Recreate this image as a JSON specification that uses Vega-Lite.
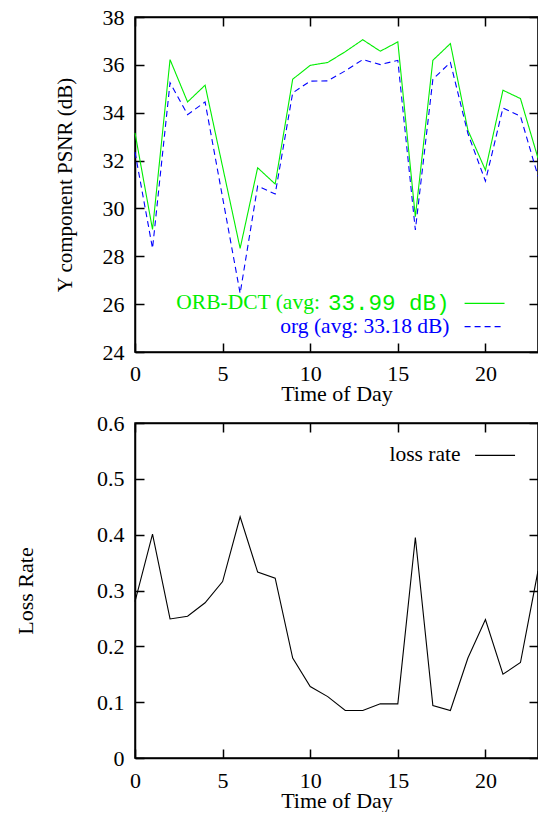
{
  "$schema": "https://vega.github.io/schema/vega-lite/v6.json",
  "padding": {"left": 13, "top": 5, "right": 0, "bottom": 0},
  "background": "white",
  "spacing": 71,
  "bounds": "flush",
  "datasets": {
    "psnr": [
      {"hour": 0, "series": "ORB-DCT", "psnr": 33.16}, {"hour": 1, "series": "ORB-DCT", "psnr": 29.12},
      {"hour": 2, "series": "ORB-DCT", "psnr": 36.22}, {"hour": 3, "series": "ORB-DCT", "psnr": 34.45},
      {"hour": 4, "series": "ORB-DCT", "psnr": 35.15}, {"hour": 5, "series": "ORB-DCT", "psnr": 31.74},
      {"hour": 6, "series": "ORB-DCT", "psnr": 28.33}, {"hour": 7, "series": "ORB-DCT", "psnr": 31.7},
      {"hour": 8, "series": "ORB-DCT", "psnr": 31.02}, {"hour": 9, "series": "ORB-DCT", "psnr": 35.4},
      {"hour": 10, "series": "ORB-DCT", "psnr": 35.98}, {"hour": 11, "series": "ORB-DCT", "psnr": 36.1},
      {"hour": 12, "series": "ORB-DCT", "psnr": 36.55}, {"hour": 13, "series": "ORB-DCT", "psnr": 37.05},
      {"hour": 14, "series": "ORB-DCT", "psnr": 36.57}, {"hour": 15, "series": "ORB-DCT", "psnr": 36.96},
      {"hour": 16, "series": "ORB-DCT", "psnr": 29.65}, {"hour": 17, "series": "ORB-DCT", "psnr": 36.19},
      {"hour": 18, "series": "ORB-DCT", "psnr": 36.89}, {"hour": 19, "series": "ORB-DCT", "psnr": 33.27},
      {"hour": 20, "series": "ORB-DCT", "psnr": 31.6}, {"hour": 21, "series": "ORB-DCT", "psnr": 34.94},
      {"hour": 22, "series": "ORB-DCT", "psnr": 34.59}, {"hour": 23, "series": "ORB-DCT", "psnr": 32.1},
      {"hour": 0, "series": "org", "psnr": 32.35}, {"hour": 1, "series": "org", "psnr": 28.33},
      {"hour": 2, "series": "org", "psnr": 35.25}, {"hour": 3, "series": "org", "psnr": 33.92},
      {"hour": 4, "series": "org", "psnr": 34.45}, {"hour": 5, "series": "org", "psnr": 30.45},
      {"hour": 6, "series": "org", "psnr": 26.45}, {"hour": 7, "series": "org", "psnr": 30.94},
      {"hour": 8, "series": "org", "psnr": 30.6}, {"hour": 9, "series": "org", "psnr": 34.83},
      {"hour": 10, "series": "org", "psnr": 35.32}, {"hour": 11, "series": "org", "psnr": 35.33},
      {"hour": 12, "series": "org", "psnr": 35.75}, {"hour": 13, "series": "org", "psnr": 36.22},
      {"hour": 14, "series": "org", "psnr": 36.01}, {"hour": 15, "series": "org", "psnr": 36.19},
      {"hour": 16, "series": "org", "psnr": 29.1}, {"hour": 17, "series": "org", "psnr": 35.4},
      {"hour": 18, "series": "org", "psnr": 36.1}, {"hour": 19, "series": "org", "psnr": 33.13},
      {"hour": 20, "series": "org", "psnr": 31.14}, {"hour": 21, "series": "org", "psnr": 34.2},
      {"hour": 22, "series": "org", "psnr": 33.85}, {"hour": 23, "series": "org", "psnr": 31.35}
    ],
    "loss": [
      {"hour": 0, "rate": 0.28}, {"hour": 1, "rate": 0.401}, {"hour": 2, "rate": 0.249},
      {"hour": 3, "rate": 0.254}, {"hour": 4, "rate": 0.278}, {"hour": 5, "rate": 0.316},
      {"hour": 6, "rate": 0.432}, {"hour": 7, "rate": 0.333}, {"hour": 8, "rate": 0.322},
      {"hour": 9, "rate": 0.179}, {"hour": 10, "rate": 0.128}, {"hour": 11, "rate": 0.11},
      {"hour": 12, "rate": 0.085}, {"hour": 13, "rate": 0.085}, {"hour": 14, "rate": 0.097},
      {"hour": 15, "rate": 0.097}, {"hour": 16, "rate": 0.395}, {"hour": 17, "rate": 0.094},
      {"hour": 18, "rate": 0.085}, {"hour": 19, "rate": 0.179}, {"hour": 20, "rate": 0.248},
      {"hour": 21, "rate": 0.15}, {"hour": 22, "rate": 0.171}, {"hour": 23, "rate": 0.335}
    ],
    "psnrLegend": [
      {"series": "ORB-DCT", "x1": 18.81, "x2": 21.09, "y": 26.03, "textX": 17.95, "serifX": 10.55, "serif": "ORB-DCT (avg:", "mono": "33.99 dB)"},
      {"series": "org", "x1": 18.81, "x2": 21.09, "y": 25.06, "textX": 17.95, "serifX": 17.95, "serif": "org (avg: 33.18 dB)"}
    ],
    "lossLegend": [
      {"label": "loss rate", "x1": 19.41, "x2": 21.69, "y": 0.542, "textX": 18.58}
    ]
  },
  "vconcat": [
    {
      "width": 403,
      "height": 335,
      "layer": [
        {
          "data": {"name": "psnr"},
          "mark": {"type": "line", "strokeWidth": 1.1},
          "encoding": {
            "x": {"field": "hour", "type": "quantitative", "scale": {"domain": [0, 23], "nice": false},
                  "axis": {"values": [0, 5, 10, 15, 20], "title": "Time of Day", "titlePadding": -1, "labelPadding": 20}},
            "y": {"field": "psnr", "type": "quantitative", "scale": {"domain": [24, 38], "nice": false},
                  "axis": {"values": [24, 26, 28, 30, 32, 34, 36, 38], "title": "Y component PSNR (dB)", "titlePadding": 27, "titleFontSize": 21, "labelPadding": 20}},
            "color": {"field": "series", "type": "nominal", "scale": {"domain": ["ORB-DCT", "org"], "range": ["#00ee00", "#0000ff"]}, "legend": null},
            "strokeDash": {"field": "series", "type": "nominal", "scale": {"domain": ["ORB-DCT", "org"], "range": [[1, 0], [6, 4]]}, "legend": null}
          }
        },
        {
          "data": {"name": "psnrLegend"},
          "mark": {"type": "rule", "strokeWidth": 1.1},
          "encoding": {
            "x": {"field": "x1", "type": "quantitative", "axis": {"orient": "top", "values": [0, 5, 10, 15, 20], "labels": false, "title": null}},
            "x2": {"field": "x2"},
            "y": {"field": "y", "type": "quantitative", "axis": {"orient": "right", "values": [24, 26, 28, 30, 32, 34, 36, 38], "labels": false, "title": null}},
            "color": {"field": "series", "type": "nominal", "legend": null},
            "strokeDash": {"field": "series", "type": "nominal", "legend": null}
          }
        },
        {
          "data": {"name": "psnrLegend"},
          "mark": {"type": "text", "align": "right", "baseline": "middle", "font": "Liberation Serif", "fontSize": 21.5},
          "encoding": {
            "x": {"field": "serifX", "type": "quantitative", "axis": null},
            "y": {"field": "y", "type": "quantitative", "axis": null},
            "text": {"field": "serif"},
            "color": {"field": "series", "type": "nominal", "legend": null}
          }
        },
        {
          "data": {"name": "psnrLegend"},
          "transform": [{"filter": "datum.mono != null"}],
          "mark": {"type": "text", "align": "right", "baseline": "middle", "font": "Liberation Mono", "fontSize": 22.5},
          "encoding": {
            "x": {"field": "textX", "type": "quantitative", "axis": null},
            "y": {"field": "y", "type": "quantitative", "axis": null},
            "text": {"field": "mono"},
            "color": {"field": "series", "type": "nominal", "legend": null}
          }
        }
      ],
      "resolve": {"axis": {"x": "independent", "y": "independent"}}
    },
    {
      "width": 403,
      "height": 335,
      "layer": [
        {
          "data": {"name": "loss"},
          "mark": {"type": "line", "strokeWidth": 1.1, "color": "black"},
          "encoding": {
            "x": {"field": "hour", "type": "quantitative", "scale": {"domain": [0, 23], "nice": false},
                  "axis": {"values": [0, 5, 10, 15, 20], "title": "Time of Day", "titlePadding": -1, "labelPadding": 21}},
            "y": {"field": "rate", "type": "quantitative", "scale": {"domain": [0, 0.6], "nice": false},
                  "axis": {"values": [0, 0.1, 0.2, 0.3, 0.4, 0.5, 0.6], "format": ".1~f", "title": "Loss Rate", "titlePadding": 59, "labelPadding": 20}}
          }
        },
        {
          "data": {"name": "lossLegend"},
          "mark": {"type": "rule", "strokeWidth": 1.1, "color": "black"},
          "encoding": {
            "x": {"field": "x1", "type": "quantitative", "axis": {"orient": "top", "values": [0, 5, 10, 15, 20], "labels": false, "title": null}},
            "x2": {"field": "x2"},
            "y": {"field": "y", "type": "quantitative", "axis": {"orient": "right", "values": [0, 0.1, 0.2, 0.3, 0.4, 0.5, 0.6], "labels": false, "title": null}}
          }
        },
        {
          "data": {"name": "lossLegend"},
          "mark": {"type": "text", "align": "right", "baseline": "middle", "font": "Liberation Serif", "fontSize": 21.5, "color": "black"},
          "encoding": {
            "x": {"field": "textX", "type": "quantitative", "axis": null},
            "y": {"field": "y", "type": "quantitative", "axis": null},
            "text": {"field": "label"}
          }
        }
      ],
      "resolve": {"axis": {"x": "independent", "y": "independent"}}
    }
  ],
  "config": {
    "font": "Liberation Serif",
    "view": {"stroke": "black", "strokeWidth": 1.5},
    "axis": {
      "grid": false,
      "labelFont": "Liberation Serif",
      "labelFontSize": 22,
      "labelColor": "black",
      "labelFlush": false,
      "labelOverlap": false,
      "titleFont": "Liberation Serif",
      "titleFontSize": 22,
      "titleFontWeight": "normal",
      "titleColor": "black",
      "tickSize": -9,
      "tickColor": "black",
      "tickWidth": 1.5,
      "domainColor": "black",
      "domainWidth": 1.5
    }
  }
}
